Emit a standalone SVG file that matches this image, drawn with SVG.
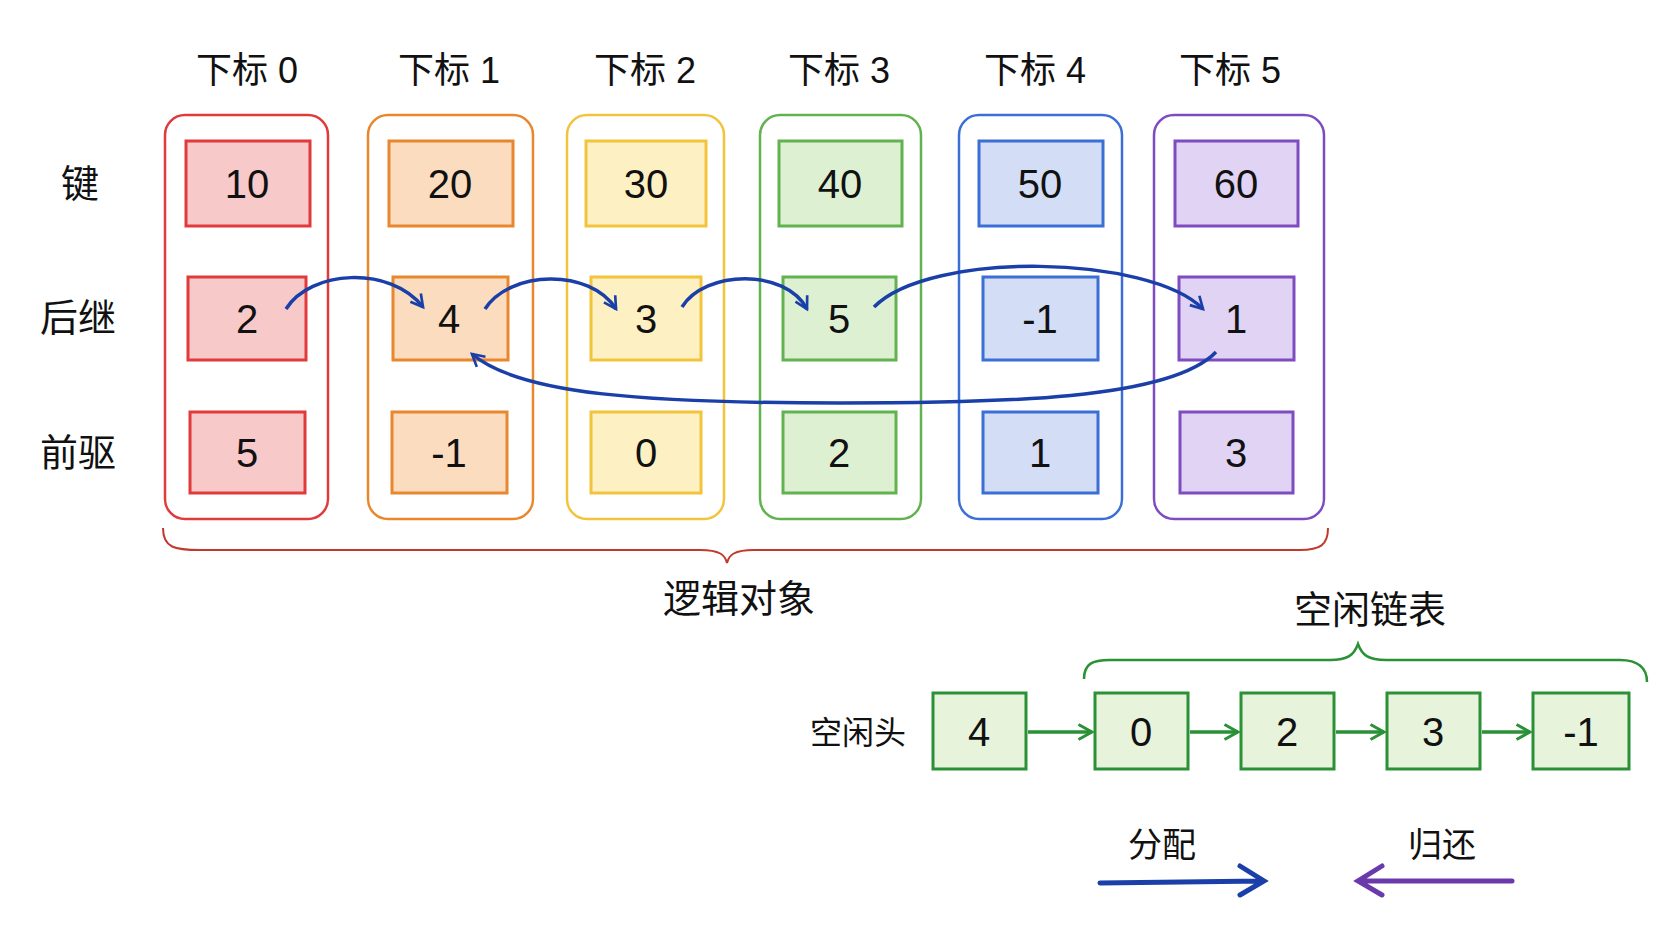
<svg xmlns="http://www.w3.org/2000/svg" width="1672" height="941" viewBox="0 0 1672 941">
<defs>
<style>
text{font-family:"Liberation Sans","Noto Sans CJK SC",sans-serif;fill:#111;text-anchor:middle;dominant-baseline:central}
.h{font-size:36px}.n{font-size:40px}.lb{font-size:38px}
.col{fill:none;stroke-width:2.5}
.bx{stroke-width:3}
.c0{stroke:#e03a3a}.f0{fill:#f8c9c9}
.c1{stroke:#e8872d}.f1{fill:#fbdcbf}
.c2{stroke:#f2c43c}.f2{fill:#fdf1c4}
.c3{stroke:#62b250}.f3{fill:#def0d2}
.c4{stroke:#3c6fd6}.f4{fill:#d3ddf6}
.c5{stroke:#7e4cc0}.f5{fill:#e0d3f3}
.fl{fill:#e8f3dc;stroke:#2a9136;stroke-width:3}
.blue{fill:none;stroke:#1a3fa8;stroke-width:3.5}
.grn{fill:none;stroke:#2a9136;stroke-width:3.5}
</style>
<marker id="ab" viewBox="0 0 12 12" refX="10" refY="6" markerWidth="16" markerHeight="16" orient="auto" markerUnits="userSpaceOnUse"><path d="M1,1 L10,6 L1,11" fill="none" stroke="#1a3fa8" stroke-width="2"/></marker>
<marker id="ag" viewBox="0 0 12 12" refX="10" refY="6" markerWidth="18" markerHeight="18" orient="auto" markerUnits="userSpaceOnUse"><path d="M1,1 L10,6 L1,11" fill="none" stroke="#2a9136" stroke-width="2"/></marker>
</defs>
<rect width="1672" height="941" fill="#fff"/>
<g id="headers" class="h">
<text x="247" y="70">下标 0</text><text x="449" y="70">下标 1</text><text x="645" y="70">下标 2</text><text x="839" y="70">下标 3</text><text x="1035" y="70">下标 4</text><text x="1230" y="70">下标 5</text>
</g>
<g id="rowlabels" class="lb">
<text x="80" y="184">键</text><text x="78" y="318">后继</text><text x="78" y="453">前驱</text>
</g>
<g id="col0"><rect class="col c0" x="165" y="115" width="163" height="404" rx="20"/>
<rect class="bx c0 f0" x="186" y="141" width="124" height="85"/><text class="n" x="247" y="184">10</text>
<rect class="bx c0 f0" x="188" y="277" width="118" height="83"/><text class="n" x="247" y="319">2</text>
<rect class="bx c0 f0" x="190" y="412" width="115" height="81"/><text class="n" x="247" y="453">5</text></g>
<g id="col1"><rect class="col c1" x="368" y="115" width="165" height="404" rx="20"/>
<rect class="bx c1 f1" x="389" y="141" width="124" height="85"/><text class="n" x="450" y="184">20</text>
<rect class="bx c1 f1" x="393" y="277" width="115" height="83"/><text class="n" x="449" y="319">4</text>
<rect class="bx c1 f1" x="392" y="412" width="115" height="81"/><text class="n" x="449" y="453">-1</text></g>
<g id="col2"><rect class="col c2" x="567" y="115" width="157" height="404" rx="20"/>
<rect class="bx c2 f2" x="586" y="141" width="120" height="85"/><text class="n" x="646" y="184">30</text>
<rect class="bx c2 f2" x="591" y="277" width="110" height="83"/><text class="n" x="646" y="319">3</text>
<rect class="bx c2 f2" x="591" y="412" width="110" height="81"/><text class="n" x="646" y="453">0</text></g>
<g id="col3"><rect class="col c3" x="760" y="115" width="161" height="404" rx="20"/>
<rect class="bx c3 f3" x="779" y="141" width="123" height="85"/><text class="n" x="840" y="184">40</text>
<rect class="bx c3 f3" x="783" y="277" width="113" height="83"/><text class="n" x="839" y="319">5</text>
<rect class="bx c3 f3" x="783" y="412" width="113" height="81"/><text class="n" x="839" y="453">2</text></g>
<g id="col4"><rect class="col c4" x="959" y="115" width="163" height="404" rx="20"/>
<rect class="bx c4 f4" x="979" y="141" width="124" height="85"/><text class="n" x="1040" y="184">50</text>
<rect class="bx c4 f4" x="983" y="277" width="115" height="83"/><text class="n" x="1040" y="319">-1</text>
<rect class="bx c4 f4" x="983" y="412" width="115" height="81"/><text class="n" x="1040" y="453">1</text></g>
<g id="col5"><rect class="col c5" x="1154" y="115" width="170" height="404" rx="20"/>
<rect class="bx c5 f5" x="1175" y="141" width="123" height="85"/><text class="n" x="1236" y="184">60</text>
<rect class="bx c5 f5" x="1179" y="277" width="115" height="83"/><text class="n" x="1236" y="319">1</text>
<rect class="bx c5 f5" x="1180" y="412" width="113" height="81"/><text class="n" x="1236" y="453">3</text></g>
<g id="connectors">
<path class="blue" marker-end="url(#ab)" d="M286,309 C310,270 390,265 423,307"/>
<path class="blue" marker-end="url(#ab)" d="M485,309 C510,270 590,268 616,309"/>
<path class="blue" marker-end="url(#ab)" d="M682,307 C705,270 785,268 807,309"/>
<path class="blue" marker-end="url(#ab)" d="M874,307 C930,250 1150,255 1203,309"/>
<path class="blue" marker-end="url(#ab)" d="M1216,352 C1170,400 1000,403 840,403 C650,403 520,395 472,354"/>
<path fill="none" stroke="#c0392b" stroke-width="2" d="M163,528 C163,548 175,550 200,550 L700,550 C720,550 725,555 727,563 C729,555 734,550 754,550 L1300,550 C1320,550 1328,545 1328,528"/>
<path fill="none" stroke="#2a9136" stroke-width="2.5" d="M1084,679 C1084,664 1092,660 1110,660 L1330,660 C1348,660 1354,655 1358,644 C1362,655 1368,660 1386,660 L1620,660 C1638,660 1647,668 1647,682"/>
<path class="grn" marker-end="url(#ag)" d="M1028,732 L1092,732"/>
<path class="grn" marker-end="url(#ag)" d="M1190,732 L1238,732"/>
<path class="grn" marker-end="url(#ag)" d="M1336,732 L1384,732"/>
<path class="grn" marker-end="url(#ag)" d="M1482,732 L1530,732"/>
<path fill="none" stroke="#1a3fa8" stroke-width="5" stroke-linecap="round" d="M1100,883 L1262,881 M1240,866 L1264,881 L1240,895"/>
<path fill="none" stroke="#6a3aaa" stroke-width="5" stroke-linecap="round" d="M1512,881 L1360,881 M1382,866 L1358,881 L1382,895"/>
</g>
<text class="lb" x="739" y="599">逻辑对象</text>
<text class="lb" x="1370" y="610">空闲链表</text>
<text x="858" y="733" style="font-size:32px">空闲头</text>
<g id="freelist">
<rect class="fl" x="933" y="693" width="93" height="76"/><text class="n" x="979" y="732">4</text>
<rect class="fl" x="1095" y="693" width="93" height="76"/><text class="n" x="1141" y="732">0</text>
<rect class="fl" x="1241" y="693" width="93" height="76"/><text class="n" x="1287" y="732">2</text>
<rect class="fl" x="1387" y="693" width="93" height="76"/><text class="n" x="1433" y="732">3</text>
<rect class="fl" x="1533" y="693" width="96" height="76"/><text class="n" x="1581" y="732">-1</text>
</g>
<text x="1162" y="845" style="font-size:34px">分配</text>
<text x="1442" y="845" style="font-size:34px">归还</text>
</svg>
